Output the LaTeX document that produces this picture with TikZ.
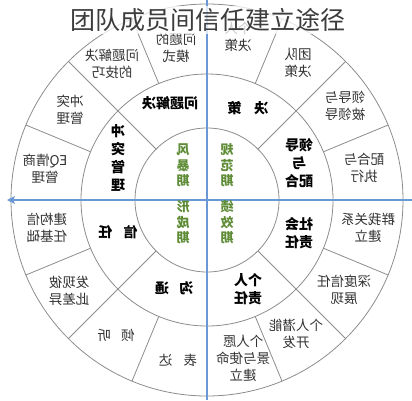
\documentclass[tikz,border=0pt]{standalone}
\usepackage{fontspec}
\setmainfont{Noto Sans CJK SC}
\usetikzlibrary{arrows.meta}
\definecolor{axisblue}{RGB}{105,152,212}
\definecolor{ringgray}{RGB}{140,140,140}
\definecolor{stagegreen}{RGB}{95,140,55}
\definecolor{txtgray}{RGB}{50,50,50}
\definecolor{titlegray}{RGB}{60,60,60}
\newcommand\mirr[1]{\reflectbox{\begin{tabular}{@{}c@{}}#1\end{tabular}}}
\begin{document}
\begin{tikzpicture}[x=1pt,y=-1pt,
  ring/.style={draw=ringgray,line width=0.8pt},
  axisline/.style={draw=axisblue,line width=1.6pt},
  outer/.style={font=\fontsize{13.5}{17}\selectfont,text=txtgray,inner sep=0pt},
  mid/.style={font=\fontsize{14}{18}\selectfont\bfseries,text=black,inner sep=0pt},
  stage/.style={font=\fontsize{13}{15}\selectfont\bfseries,text=stagegreen,inner sep=0pt},
  titlebox/.style={font=\fontsize{25}{30}\selectfont,text=titlegray,fill=white,fill opacity=0.75,text opacity=1,inner sep=2pt}]
\useasboundingbox (0,0) rectangle (412,400);
\coordinate (C) at (207,200);
% rings
\draw[ring] (C) circle[radius=72pt];
\draw[ring] (C) circle[radius=126pt];
\draw[ring] (C) circle[radius=196pt];
\foreach \a in {45,135,225,315}
  \draw[ring,shift={(C)}] (\a:72pt) -- (\a:196pt);
\foreach \a in {22.5,67.5,112.5,157.5,202.5,247.5,292.5,337.5}
  \draw[ring,shift={(C)}] (\a:126pt) -- (\a:196pt);
% axes
\coordinate (vt) at (207,0);
\coordinate (vb) at (207,400);
\coordinate (hr) at (412,200);
\coordinate (hl) at (7,200);
\draw[axisline] (vt) -- (vb);
\draw[axisline,-{Stealth[length=8pt,width=8pt,inset=2pt]}] (hr) -- (hl);
% inner stages
\node[stage] (i1) at (183,167) {\mirr{风\\暴\\期}};
\node[stage] (i2) at (227,167) {\mirr{规\\范\\期}};
\node[stage] (i3) at (183,224) {\mirr{形\\成\\期}};
\node[stage] (i4) at (227,224) {\mirr{绩\\效\\期}};
% middle ring
\node[mid] (m1) at (170,105) {\mirr{问题解决}};
\node[mid] (m2) at (248,110) {\mirr{决\hspace{0.9em}策}};
\node[mid] (m3) at (299,165) {\mirr{领导\\与\\配合}};
\node[mid] (m4) at (299,235) {\mirr{社会\\责任}};
\node[mid] (m5) at (248,291) {\mirr{个人\\责任}};
\node[mid] (m6) at (174,290) {\mirr{沟\hspace{0.75em}通}};
\node[mid] (m7) at (118,234) {\mirr{信\hspace{0.8em}任}};
\node[mid] (m8) at (118,160) {\mirr{冲\\突\\管\\理}};
% outer ring
\node[outer] (o1) at (176,50) {\mirr{问题的\\模式}};
\node[outer] (o2) at (238,39) {\mirr{个人\\决策}};
\node[outer] (o3) at (298,65) {\mirr{团队\\决策}};
\node[outer] (o4) at (345,108) {\mirr{领导与\\被领导}};
\node[outer] (o5) at (364,170) {\mirr{配合与\\执行}};
\node[outer] (o6) at (368,230) {\mirr{群我关系\\建立}};
\node[outer] (o7) at (344,292) {\mirr{深度信任\\展现}};
\node[outer] (o8) at (296,336) {\mirr{个人潜能\\开发}};
\node[outer] (o9) at (243,360) {\mirr{个人愿\\景与使命\\建立}};
\node[outer] (o10) at (178,362) {\mirr{表\hspace{0.85em}达}};
\node[outer] (o11) at (116,337) {\mirr{倾\hspace{0.75em}听}};
\node[outer] (o12) at (69,293) {\mirr{发现彼\\此差异}};
\node[outer] (o13) at (47,230) {\mirr{建构信\\任基础}};
\node[outer] (o14) at (45,171) {\mirr{EQ情商\\管理}};
\node[outer] (o15) at (70,112) {\mirr{冲突\\管理}};
\node[outer] (o16) at (112,66) {\mirr{问题解决\\的技巧}};
% title
\node[titlebox] (title) at (208,20) {团队成员间信任建立途径};
\end{tikzpicture}
\end{document}
